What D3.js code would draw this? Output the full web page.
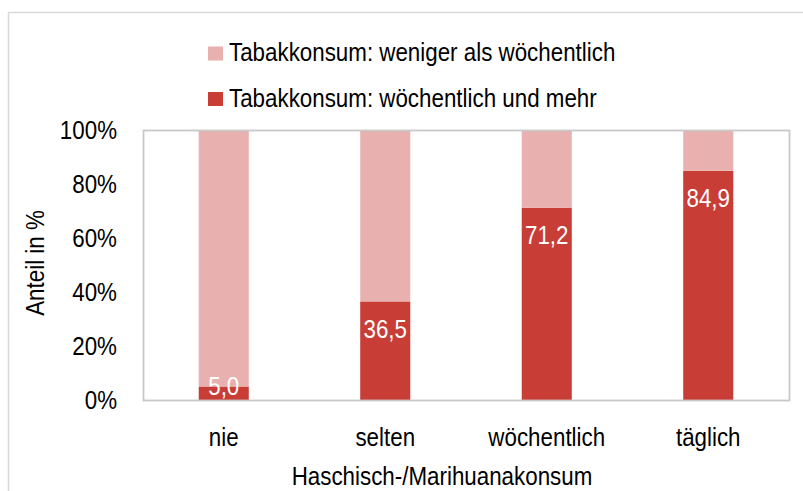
<!DOCTYPE html>
<html><head><meta charset="utf-8">
<script src="https://cdn.jsdelivr.net/npm/d3@7/dist/d3.min.js"></script>
<style>body{margin:0;background:#fff}svg text{font-family:"Liberation Sans",Arial,sans-serif}</style>
</head><body><svg id="c" width="803" height="491"></svg>
<script>
const categories = ["nie", "selten", "wöchentlich", "täglich"];
const weeklyPlus = [5.0, 36.5, 71.2, 84.9];
const lessThanWeekly = [95.0, 63.5, 28.8, 15.1];
const seriesNames = ["Tabakkonsum: weniger als wöchentlich", "Tabakkonsum: wöchentlich und mehr"];
const yTicks = [0, 20, 40, 60, 80, 100];
const xTitle = "Haschisch-/Marihuanakonsum";
const yTitle = "Anteil in %";

const colLight = "#E8B0AE", colDark = "#C83D36";
const svg = d3.select("#c");
const fs = 26, sx = 0.86;
svg.append("rect").attr("x",8.5).attr("y",12.5).attr("width",800).attr("height",490)
  .attr("fill","none").attr("stroke","#d9d9d9").attr("stroke-width",1.5);

const L = 143, R = 789, T = 130, B = 400;
const x = d3.scaleBand().domain(categories).range([L, R]).paddingInner(0.69).paddingOuter(0.345);
const y = d3.scaleLinear().domain([0, 100]).range([B, T]);

const data = categories.map((c, i) => ({c, a: weeklyPlus[i], b: lessThanWeekly[i]}));
const stack = d3.stack().keys(["a", "b"])(data);
const colors = {a: colDark, b: colLight};
stack.forEach(s => {
  svg.append("g").selectAll("rect").data(s).join("rect")
    .attr("x", d => x(d.data.c)).attr("width", x.bandwidth())
    .attr("y", d => y(d[1])).attr("height", d => y(d[0]) - y(d[1]))
    .attr("fill", colors[s.key]);
});

svg.append("rect").attr("x", L + 0.5).attr("y", T + 0.5).attr("width", R - L).attr("height", B - T)
  .attr("fill", "none").attr("stroke", "#c8c8c8").attr("stroke-width", 1.8);

function txt(px, py, s, anchor, fill) {
  return svg.append("text").attr("transform", `translate(${px},${py}) scale(${sx},1)`)
    .attr("dy", "0.35em").attr("text-anchor", anchor || "start")
    .attr("font-size", fs).attr("fill", fill || "#000").text(s);
}

// data labels
data.forEach(d => {
  txt(x(d.c) + x.bandwidth() / 2, Math.min(y(d.a) + 27, B - 14.5),
      d3.format(".1f")(d.a).replace(".", ","), "middle", "#fff");
});

// y axis
const ya = d3.axisLeft(y).tickValues(yTicks).tickSize(0).tickPadding(0).tickFormat(d => d + "%");
svg.append("g").attr("transform", `translate(${117},0)`).call(ya)
  .call(g => g.select(".domain").remove())
  .selectAll("text").attr("font-size", fs).attr("fill", "#000").attr("font-family", null)
  .attr("transform", `scale(${sx},1)`);

// x axis
const xa = d3.axisBottom(x).tickSize(0).tickPadding(0);
svg.append("g").attr("transform", `translate(0,${437})`).call(xa)
  .call(g => g.select(".domain").remove())
  .selectAll("text").attr("font-size", fs).attr("fill", "#000").attr("dy", "0.35em").attr("font-family", null)
  .attr("transform", `scale(${sx},1)`);

txt(442, 476, xTitle, "middle");
svg.append("text").attr("transform", `translate(35,263) rotate(-90) scale(${sx},1)`).attr("dy", "0.35em")
  .attr("text-anchor", "middle").attr("font-size", fs).text(yTitle);

// legend
seriesNames.forEach((n, i) => {
  const yy = 53 + i * 45.5;
  svg.append("rect").attr("x", 208).attr("y", yy - 6.5).attr("width", 15).attr("height", 14)
    .attr("fill", i === 0 ? colLight : colDark);
  txt(229, yy - 1, n);
});
</script></body></html>
